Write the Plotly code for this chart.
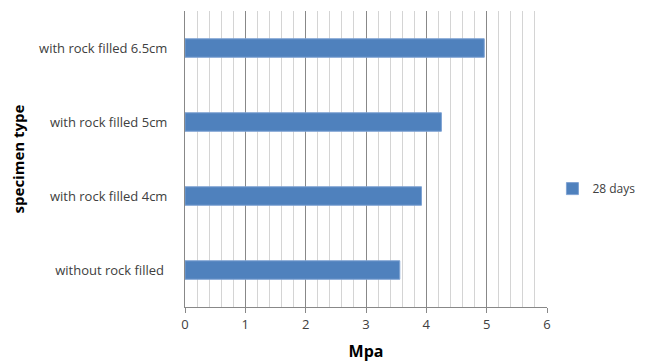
import plotly.graph_objects as go

categories = ["without rock filled ", "with rock filled 4cm", "with rock filled 5cm", "with rock filled 6.5cm"]
values_28 = [3.56, 3.92, 4.25, 4.96]
series_name = "28 days"
x_ticks = [0, 1, 2, 3, 4, 5, 6]

fig = go.Figure()
fig.add_trace(go.Bar(
    y=categories, x=values_28, orientation="h", name=series_name,
    marker=dict(color="#4f81bd", line=dict(color="#7fa3d3", width=1)),
    width=0.25, showlegend=True,
))

font_family = "Open Sans, Liberation Sans, sans-serif"
fig.update_layout(
    width=648, height=362,
    margin=dict(l=185, r=101, t=11, b=55, autoexpand=False),
    plot_bgcolor="white", paper_bgcolor="white",
    font=dict(family=font_family, size=12, color="#404040"),
    showlegend=True,
    legend=dict(x=1.015, y=0.40, xanchor="left", yanchor="middle",
                font=dict(size=12, color="#404040"), itemwidth=30,
                tracegroupgap=0),
    xaxis=dict(
        range=[0, 6], tickvals=x_ticks, ticktext=[str(t) for t in x_ticks],
        showgrid=True, gridcolor="#888888", gridwidth=1,
        minor=dict(dtick=0.2, showgrid=True, gridcolor="#d4d4d4", gridwidth=1),
        showline=True, linecolor="#888888", linewidth=1,
        ticks="outside", ticklen=5, tickcolor="#888888",
        zeroline=False, automargin=False,
        title=dict(text="<b>Mpa</b>", font=dict(size=16, color="#000000"), standoff=14),
        tickfont=dict(size=13, color="#404040"),
        fixedrange=True,
    ),
    yaxis=dict(
        categoryorder="array", categoryarray=categories,
        showgrid=False, showline=True, linecolor="#888888", linewidth=1,
        ticks="", ticklabelstandoff=14, automargin=False,
        title=dict(text="<b>specimen type</b>", font=dict(size=15, color="#000000"), standoff=10),
        tickfont=dict(size=13, color="#404040"),
        fixedrange=True,
    ),
)

fig.write_html("out.html", config={"displayModeBar": False},
               post_script="document.body.style.margin='0px';")
